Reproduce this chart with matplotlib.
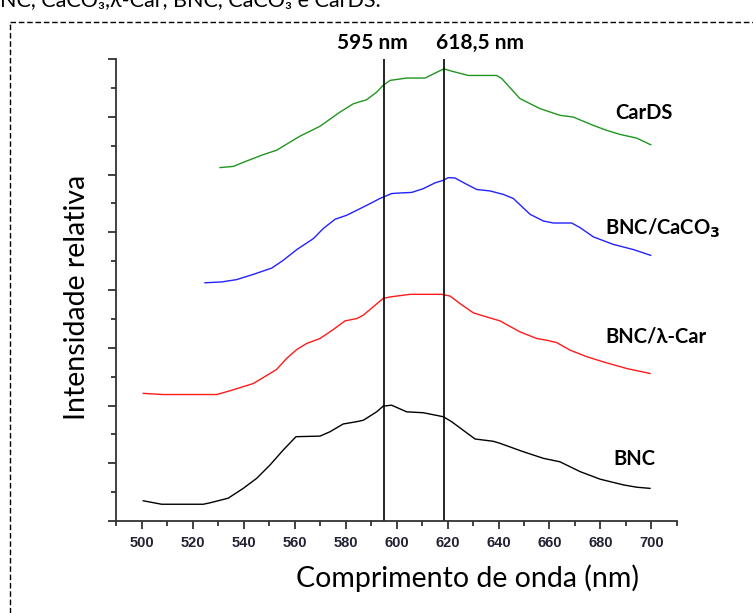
import matplotlib.pyplot as plt
from matplotlib.lines import Line2D
from matplotlib.ticker import MultipleLocator, NullFormatter

# emission spectra, stacked with offsets (nm, relative intensity)
bnc_nm = [500.7, 507.9, 524.2, 526.9, 534.0, 539.9, 545.2, 550.4, 555.6, 560.6,
          570.0, 573.9, 579.1, 584.4, 587.0, 592.2, 594.8, 598.1, 604.0, 610.5,
          618.4, 621.6, 630.8, 638.0, 640.6, 649.7, 657.6, 664.1, 672.0, 679.8,
          689.0, 694.2, 699.4]
bnc_int = [0.70, 0.58, 0.58, 0.63, 0.79, 1.13, 1.48, 1.94, 2.46, 2.92,
           2.94, 3.09, 3.36, 3.44, 3.49, 3.78, 3.98, 4.01, 3.78, 3.75,
           3.61, 3.44, 2.84, 2.76, 2.69, 2.40, 2.17, 2.05, 1.71, 1.45,
           1.25, 1.17, 1.13]

car_nm = [500.7, 508.5, 529.5, 534.7, 543.8, 547.8, 553.0, 556.9, 560.9, 564.8,
          570.0, 575.2, 579.8, 584.4, 587.0, 590.9, 594.8, 597.5, 605.3, 617.7,
          621.0, 624.9, 630.1, 634.1, 640.6, 648.4, 655.0, 658.9, 662.8, 668.0,
          674.6, 681.1, 690.3, 699.4]
car_int = [4.42, 4.38, 4.38, 4.51, 4.76, 4.97, 5.25, 5.63, 5.94, 6.15,
           6.32, 6.63, 6.93, 7.01, 7.13, 7.42, 7.71, 7.76, 7.85, 7.85,
           7.79, 7.53, 7.21, 7.10, 6.93, 6.55, 6.32, 6.26, 6.18, 5.92,
           5.69, 5.51, 5.28, 5.11]

caco3_nm = [524.9, 531.5, 537.3, 543.8, 551.1, 555.6, 560.9, 567.4, 571.3, 575.9,
            580.5, 584.4, 589.6, 593.5, 598.1, 601.4, 606.0, 610.5, 615.1, 618.4,
            620.3, 622.9, 627.5, 631.5, 636.7, 641.9, 645.8, 652.4, 657.6, 661.5,
            668.7, 672.0, 677.2, 685.0, 692.9, 699.7]
caco3_int = [8.25, 8.28, 8.36, 8.54, 8.76, 9.03, 9.40, 9.78, 10.13, 10.45,
             10.59, 10.76, 10.99, 11.17, 11.34, 11.36, 11.38, 11.51, 11.71, 11.80,
             11.89, 11.88, 11.66, 11.48, 11.43, 11.31, 11.17, 10.62, 10.39, 10.32,
             10.32, 10.16, 9.84, 9.58, 9.40, 9.20]

cards_nm = [530.8, 536.0, 541.3, 547.8, 553.0, 558.2, 562.2, 570.0, 577.8, 583.1,
            588.3, 592.2, 594.8, 597.5, 604.0, 611.2, 615.1, 618.6, 621.6, 628.2,
            639.3, 641.3, 648.4, 656.3, 664.1, 669.3, 677.2, 682.4, 687.6, 694.2,
            699.7]
cards_int = [12.24, 12.28, 12.47, 12.69, 12.84, 13.12, 13.33, 13.67, 14.16, 14.45,
             14.59, 14.85, 15.09, 15.26, 15.34, 15.34, 15.51, 15.66, 15.58, 15.43,
             15.43, 15.32, 14.63, 14.28, 14.05, 13.99, 13.70, 13.53, 13.39, 13.26,
             13.03]

peaks = [595, 618.5]
peak_labels = ["595 nm", "618,5 nm"]

fig = plt.figure(figsize=(7.53, 6.13), dpi=100)
ax = fig.add_axes([116 / 753, 92 / 613, 561 / 753, 462 / 613])

ax.plot(bnc_nm, bnc_int, color="black", lw=1.0)
ax.plot(car_nm, car_int, color="#ff1a1a", lw=1.0)
ax.plot(caco3_nm, caco3_int, color="#2222ff", lw=1.0)
ax.plot(cards_nm, cards_int, color="#1f961f", lw=1.0)

for p in peaks:
    ax.axvline(p, color="black", lw=1.2)

ax.set_xlim(490, 710)
ax.set_ylim(0, 16)

for s in ["top", "right"]:
    ax.spines[s].set_visible(False)
for s in ["left", "bottom"]:
    ax.spines[s].set_color("#333333")
    ax.spines[s].set_linewidth(1.3)

ax.xaxis.set_major_locator(MultipleLocator(20))
ax.xaxis.set_minor_locator(MultipleLocator(10))
ax.yaxis.set_major_locator(MultipleLocator(2))
ax.yaxis.set_minor_locator(MultipleLocator(1))
ax.yaxis.set_major_formatter(NullFormatter())
ax.tick_params(which="major", direction="out", length=6, width=1.3, color="#333333")
ax.tick_params(which="minor", direction="out", length=3.5, width=1.3, color="#333333")
ax.tick_params(axis="x", pad=5)
for lab in ax.get_xticklabels():
    lab.set_family("Liberation Sans")
    lab.set_weight("bold")
    lab.set_fontsize(10.5)
    lab.set_color("#222233")

lato = "Lato"
ax.text(0.627, -0.123, "Comprimento de onda (nm)", transform=ax.transAxes,
        ha="center", va="center", fontsize=20.5, family=lato)
ax.text(-0.0695, 0.483, "Intensidade relativa", transform=ax.transAxes,
        ha="center", va="center", rotation=90, fontsize=20.5, family=lato)

for x, lab in zip([590.4, 632.7], peak_labels):
    ax.text(x, 16.57, lab, ha="center", va="center", fontsize=15,
            fontweight="bold", family=lato)

ax.text(697.1, 14.12, "CarDS", ha="center", va="center", fontsize=14.5,
        fontweight="bold", family=lato)
ax.text(704.5, 10.14, "BNC/CaCO$_\\mathbf{3}$", ha="center", va="center",
        fontsize=14.5, fontweight="bold", family=lato)
ax.text(701.8, 6.40, "BNC/λ-Car", ha="center", va="center", fontsize=14.5,
        fontweight="bold", family=lato)
ax.text(693.1, 2.15, "BNC", ha="center", va="center", fontsize=14.5,
        fontweight="bold", family=lato)

# dashed frame around the figure panel
fig.add_artist(Line2D([10 / 753, 1], [1 - 22 / 613] * 2, color="black",
                      lw=1.0, ls=(0, (4, 2))))
fig.add_artist(Line2D([10 / 753] * 2, [0, 1 - 22 / 613], color="black",
                      lw=1.0, ls=(0, (4, 2))))

# caption line running off the top edge
fig.text(0.0, 1 - 6 / 613, "NC, CaCO₃,λ-Car, BNC, CaCO₃ e CarDS.", ha="left",
         va="baseline", fontsize=15.5, family=lato)

fig.savefig("out.png", dpi=100)
